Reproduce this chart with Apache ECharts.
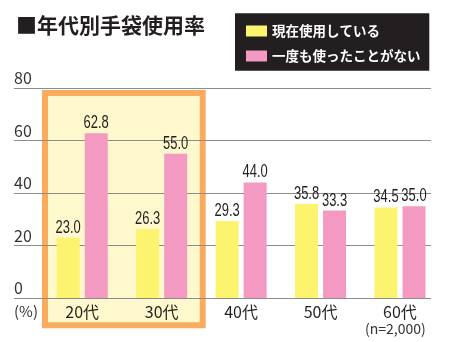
<!DOCTYPE html>
<html><head><meta charset="utf-8">
<script src="https://cdn.jsdelivr.net/npm/echarts@6/dist/echarts.min.js"></script>
<style>html,body{margin:0;padding:0;background:#fff}#c{width:454px;height:342px}</style>
</head><body><div id="c"></div>
<script>
const titleText = '■年代別手袋使用率';
const categories = ['20代', '30代', '40代', '50代', '60代'];
const seriesNames = ['現在使用している', '一度も使ったことがない'];
const usingNow = [23.0, 26.3, 29.3, 35.8, 34.5];
const neverUsed = [62.8, 55.0, 44.0, 33.3, 35.0];
const yTicks = [0, 20, 40, 60, 80];
const unitLabel = '(%)';
const sampleNote = '(n=2,000)';

const FONT = '"Noto Sans CJK JP", "Noto Sans", sans-serif';
const YELLOW = '#FCF36E';
const PINK = '#F49AC2';
const ORANGE = '#F9AB5E';
const INK = '#231F20';

function labelSeries(values, offset) {
  return {
    type: 'custom', xAxisIndex: 1, yAxisIndex: 1, z: 5, silent: true,
    data: values.map((v, i) => [i, v]),
    encode: {x: 0, y: 1},
    renderItem: (params, api) => {
      const p = api.coord([api.value(0), api.value(1)]);
      return {
        type: 'text', x: p[0] + offset, y: p[1] - 1, scaleX: 0.72,
        style: {
          text: api.value(1).toFixed(1), x: 0, y: 0,
          textAlign: 'center', textVerticalAlign: 'bottom',
          fontFamily: '"Liberation Sans", Arial, sans-serif', fontSize: 18, fill: INK
        }
      };
    }
  };
}

const chart = echarts.init(document.getElementById('c'), null, {renderer: 'canvas'});
chart.setOption({
  animation: false,
  title: {
    text: titleText, left: 11, top: 10,
    textStyle: {fontFamily: FONT, fontSize: 21, fontWeight: 'bold', color: INK}
  },
  legend: {
    data: seriesNames, orient: 'vertical', left: 235, top: 13, z: 5,
    padding: [11, 12, 8, 11],
    itemWidth: 21, itemHeight: 11, itemGap: 11, icon: 'rect',
    textStyle: {fontFamily: FONT, fontSize: 13.5, fontWeight: 'bold', color: '#fff', lineHeight: 14}
  },
  graphic: {elements: [
    {type: 'rect', z: -10, shape: {x: 45, y: 93, width: 157.7, height: 232.3},
     style: {fill: '#FFF8CC', stroke: ORANGE, lineWidth: 6}},
    {type: 'rect', z: 1, shape: {x: 235, y: 13.3, width: 194.3, height: 57.4},
     style: {fill: INK}},
    {type: 'text', z: 10, left: 14, top: 304,
     style: {text: unitLabel, fontFamily: FONT, fontSize: 15, fill: '#333'}},
    {type: 'text', z: 10, left: 365, top: 322,
     style: {text: sampleNote, fontFamily: FONT, fontSize: 14, fill: '#333'}}
  ]},
  grid: [
    {left: 14, right: 23, top: 88, height: 210},
    {left: 42.5, right: 14.3, top: 88, height: 210}
  ],
  xAxis: [
    {gridIndex: 0, type: 'value', show: false, min: 0, max: 1},
    {gridIndex: 1, type: 'category', data: categories,
     axisLine: {show: false}, axisTick: {show: false},
     axisLabel: {fontFamily: FONT, fontSize: 16, color: INK, margin: 6}}
  ],
  yAxis: [
    {gridIndex: 0, type: 'value', min: yTicks[0], max: yTicks[yTicks.length - 1], interval: 20,
     axisLine: {show: false}, axisTick: {show: false},
     splitLine: {lineStyle: {color: '#8c8c8c', width: 1}},
     axisLabel: {inside: true, margin: 0, verticalAlign: 'bottom', padding: [0, 0, 2, 0],
       fontFamily: FONT, fontSize: 16, color: '#333'}},
    {gridIndex: 1, type: 'value', min: yTicks[0], max: yTicks[yTicks.length - 1], show: false,
     splitLine: {show: false}}
  ],
  series: [
    {name: seriesNames[0], type: 'bar', xAxisIndex: 1, yAxisIndex: 1, data: usingNow,
     barWidth: 23, barGap: '22%', itemStyle: {color: YELLOW}},
    {name: seriesNames[1], type: 'bar', xAxisIndex: 1, yAxisIndex: 1, data: neverUsed,
     barWidth: 23, barGap: '22%', itemStyle: {color: PINK}},
    labelSeries(usingNow, -14),
    labelSeries(neverUsed, 14)
  ]
});
</script>
</body></html>
